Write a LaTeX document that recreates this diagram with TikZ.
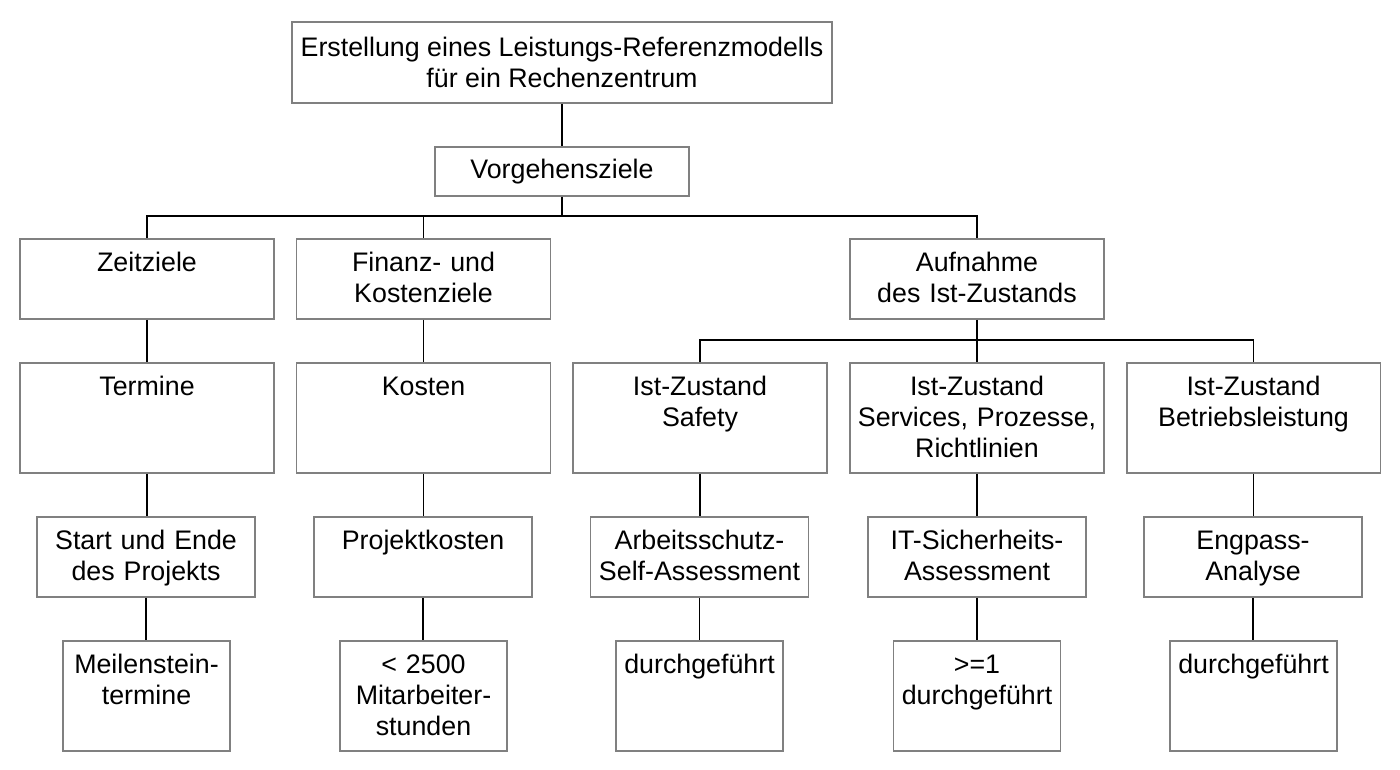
\documentclass[tikz,border=0pt]{standalone}
\usepackage{fontspec}
\setmainfont{Liberation Sans}
\usepackage{tikz}
\usetikzlibrary{positioning,calc}
\definecolor{framegray}{RGB}{128,128,128}
\newcommand{\boxfont}{\fontsize{15.25}{17.6}\selectfont}

\tikzset{
  goalbox/.style={draw=framegray, line width=1.1pt, fill=white, align=center,
    inner sep=0pt, font=\boxfont, anchor=north, text width=#1, text height=18.6pt},
  lowbox/.style={text depth=26.9pt},
  highbox/.style={text depth=44pt},
  link/.style={line width=1.1pt}
}

\begin{document}
\begin{tikzpicture}[x=0.02cm, y=-0.02cm]
  \useasboundingbox (0,0) rectangle (1400,770);
  % root and goal type
  \node[draw=framegray, line width=1.1pt, align=center, font=\boxfont,
    minimum width=10.8cm, minimum height=1.62cm] (root) at (562,62.5)
    {Erstellung eines Leistungs-Referenzmodells\\ f\"ur ein Rechenzentrum};
  \node[draw=framegray, line width=1.1pt, font=\boxfont,
    minimum width=5.08cm, minimum height=0.98cm] (vorg) at (562,171.5) {Vorgehensziele};
  % second level
  \node[goalbox=5.08cm, lowbox] (zeit) at (147,238) {Zeitziele};
  \node[goalbox=5.08cm, lowbox] (finanz) at (423.5,238) {Finanz- und\\ Kostenziele};
  \node[goalbox=5.08cm, lowbox] (aufn) at (977,238) {Aufnahme\\ des Ist-Zustands};
  % third level
  \node[goalbox=5.08cm, highbox] (termine) at (147,362) {Termine};
  \node[goalbox=5.08cm, highbox] (kosten) at (423.5,362) {Kosten};
  \node[goalbox=5.08cm, highbox] (safety) at (700,362) {Ist-Zustand\\ Safety};
  \node[goalbox=5.08cm, highbox] (services) at (977,362) {Ist-Zustand\\ Services, Prozesse,\\ Richtlinien};
  \node[goalbox=5.08cm, highbox] (betrieb) at (1253.5,362) {Ist-Zustand\\ Betriebsleistung};
  % measures
  \node[goalbox=4.36cm, lowbox] (projekt) at (146,516) {Start und Ende\\ des Projekts};
  \node[goalbox=4.36cm, lowbox] (pkosten) at (423,516) {Projektkosten};
  \node[goalbox=4.36cm, lowbox] (arbeit) at (699.5,516) {Arbeitsschutz-\\ Self-Assessment};
  \node[goalbox=4.36cm, lowbox] (itsich) at (977,516) {IT-Sicherheits-\\ Assessment};
  \node[goalbox=4.36cm, lowbox] (engpass) at (1253,516) {Engpass-\\ Analyse};
  % target values
  \node[goalbox=3.34cm, highbox] (meilen) at (146.5,640) {Meilenstein-\\ termine};
  \node[goalbox=3.34cm, highbox] (stunden) at (423.5,640) {< 2500\\ Mitarbeiter-\\ stunden};
  \node[goalbox=3.34cm, highbox] (durch1) at (699.5,640) {durchgef\"uhrt};
  \node[goalbox=3.34cm, highbox] (durch2) at (977,640) {>=1\\ durchgef\"uhrt};
  \node[goalbox=3.34cm, highbox] (durch3) at (1253.5,640) {durchgef\"uhrt};

  % connectors
  \coordinate (bus1) at (562,216);
  \coordinate (bus2) at (977,340);
  \draw[link] (root) -- (vorg);
  \draw[link] (vorg) -- (bus1);
  \draw[link] (zeit.north) |- (bus1) -| (aufn.north);
  \draw[link] (finanz.north) -- (finanz.north |- bus1);
  \draw[link] (aufn) -- (services);
  \draw[link] (safety.north) |- (bus2) -| (betrieb.north);
  \foreach \a/\b in {zeit/termine, finanz/kosten, termine/projekt, kosten/pkosten,
    safety/arbeit, services/itsich, betrieb/engpass, projekt/meilen, pkosten/stunden,
    arbeit/durch1, itsich/durch2, engpass/durch3}
    \draw[link] (\a.south) -- (\a.south |- \b.north);
\end{tikzpicture}
\end{document}
